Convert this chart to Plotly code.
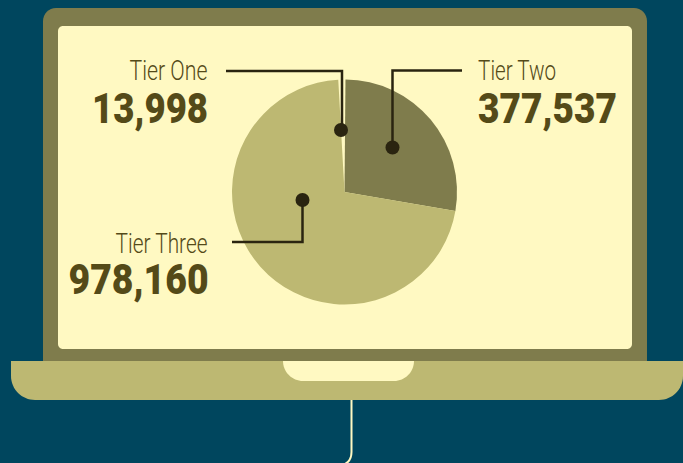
import json
import plotly.graph_objects as go

W, H = 683, 463
categories = ["Tier One", "Tier Two", "Tier Three"]
values = [13998, 377537, 978160]
value_labels = ["13,998", "377,537", "978,160"]
slice_colors = ["#FFF9C2", "#7F7C4C", "#BDB872"]

BG = "#00465E"; BEZEL = "#7F7C4C"; BASE = "#BDB872"; SCREEN = "#FFF9C2"
LINE = "#2A2410"; TEXT = "#544A18"
FONT = "Roboto"

def X(x): return x / W
def Y(y): return 1 - y / H
K = 0.45

def rr(x0, y0, x1, y1, tl, tr, br, bl):
    p = lambda x, y: f"{X(x):.5f},{Y(y):.5f}"
    s = f"M{p(x0+tl,y0)} L{p(x1-tr,y0)} "
    if tr: s += f"C{p(x1-tr*K,y0)} {p(x1,y0+tr*K)} {p(x1,y0+tr)} "
    s += f"L{p(x1,y1-br)} "
    if br: s += f"C{p(x1,y1-br*K)} {p(x1-br*K,y1)} {p(x1-br,y1)} "
    s += f"L{p(x0+bl,y1)} "
    if bl: s += f"C{p(x0+bl*K,y1)} {p(x0,y1-bl*K)} {p(x0,y1-bl)} "
    s += f"L{p(x0,y0+tl)} "
    if tl: s += f"C{p(x0,y0+tl*K)} {p(x0+tl*K,y0)} {p(x0+tl,y0)} "
    return s + "Z"

def fill(path, color, layer="below"):
    return dict(type="path", path=path, xref="paper", yref="paper", fillcolor=color,
                line=dict(width=0), layer=layer)

def poly(pts, color=LINE, width=2.5):
    path = "M" + " L".join(f"{X(x):.5f},{Y(y):.5f}" for x, y in pts)
    return dict(type="path", path=path, xref="paper", yref="paper",
                line=dict(color=color, width=width), layer="above")

def dot(x, y, r=7):
    return dict(type="circle", xref="paper", yref="paper", x0=X(x-r), x1=X(x+r),
                y0=Y(y+r), y1=Y(y-r), fillcolor=LINE, line=dict(width=0), layer="above")

tail = dict(type="path", xref="paper", yref="paper", layer="below",
            path=f"M{X(351.5):.5f},{Y(400):.5f} L{X(351.5):.5f},{Y(452):.5f} "
                 f"C{X(351.5):.5f},{Y(458):.5f} {X(349):.5f},{Y(462):.5f} {X(345):.5f},{Y(464):.5f}",
            line=dict(color=SCREEN, width=2))

shapes = [
    tail,
    fill(rr(43, 8, 647, 362, 13, 13, 0, 0), BEZEL),
    fill(rr(58, 26, 632, 349, 5, 5, 5, 5), SCREEN),
    fill(rr(11, 361, 683, 400, 0, 0, 24, 24), BASE),
    fill(rr(283, 361, 414, 381, 0, 0, 20, 20), SCREEN),
    poly([(226, 71), (342, 71), (342, 130)]),
    poly([(462, 70.5), (392.5, 70.5), (392.5, 147)]),
    poly([(232, 242), (302.5, 242), (302.5, 200)]),
    dot(341, 130), dot(392.5, 147.5), dot(302.5, 200),
]

def label(cx, y, text, size, bold=False):
    return dict(x=X(cx), y=Y(y), xref="paper", yref="paper", text=text,
                showarrow=False, xanchor="center", yanchor="middle",
                font=dict(family=FONT, size=size, color=TEXT, weight=900 if bold else 300))

annotations = [
    label(168.5, 70.5, categories[0], 27),
    label(150, 108, value_labels[0], 43, True),
    label(516.5, 70.5, categories[1], 27),
    label(547, 108, value_labels[1], 43, True),
    label(161.5, 243.5, categories[2], 27),
    label(138, 279, value_labels[2], 43, True),
]
text_widths = [78, 116, 78, 139, 92, 140]

rotation = 0.5 - 360 * values[0] / sum(values)

fig = go.Figure(go.Pie(
    labels=categories, values=values, sort=False, direction="clockwise", rotation=rotation,
    marker=dict(colors=slice_colors, line=dict(width=0)), textinfo="none", hoverinfo="label+value",
    domain=dict(x=[X(232), X(457)], y=[Y(304.5), Y(79.5)]), showlegend=False,
))
fig.update_layout(width=W, height=H, margin=dict(l=0, r=0, t=0, b=0), paper_bgcolor=BG,
                  plot_bgcolor=BG, showlegend=False, shapes=shapes, annotations=annotations)
post = """
document.body.style.margin='0';document.body.style.overflow='hidden';document.body.style.background='%s';
var ws=%s;
document.querySelectorAll('text.annotation-text').forEach(function(t,i){
  t.setAttribute('textLength',ws[i]);t.setAttribute('lengthAdjust','spacingAndGlyphs');
});
""" % (BG, json.dumps(text_widths))
fig.write_html("out.html", config=dict(displayModeBar=False), post_script=post)
